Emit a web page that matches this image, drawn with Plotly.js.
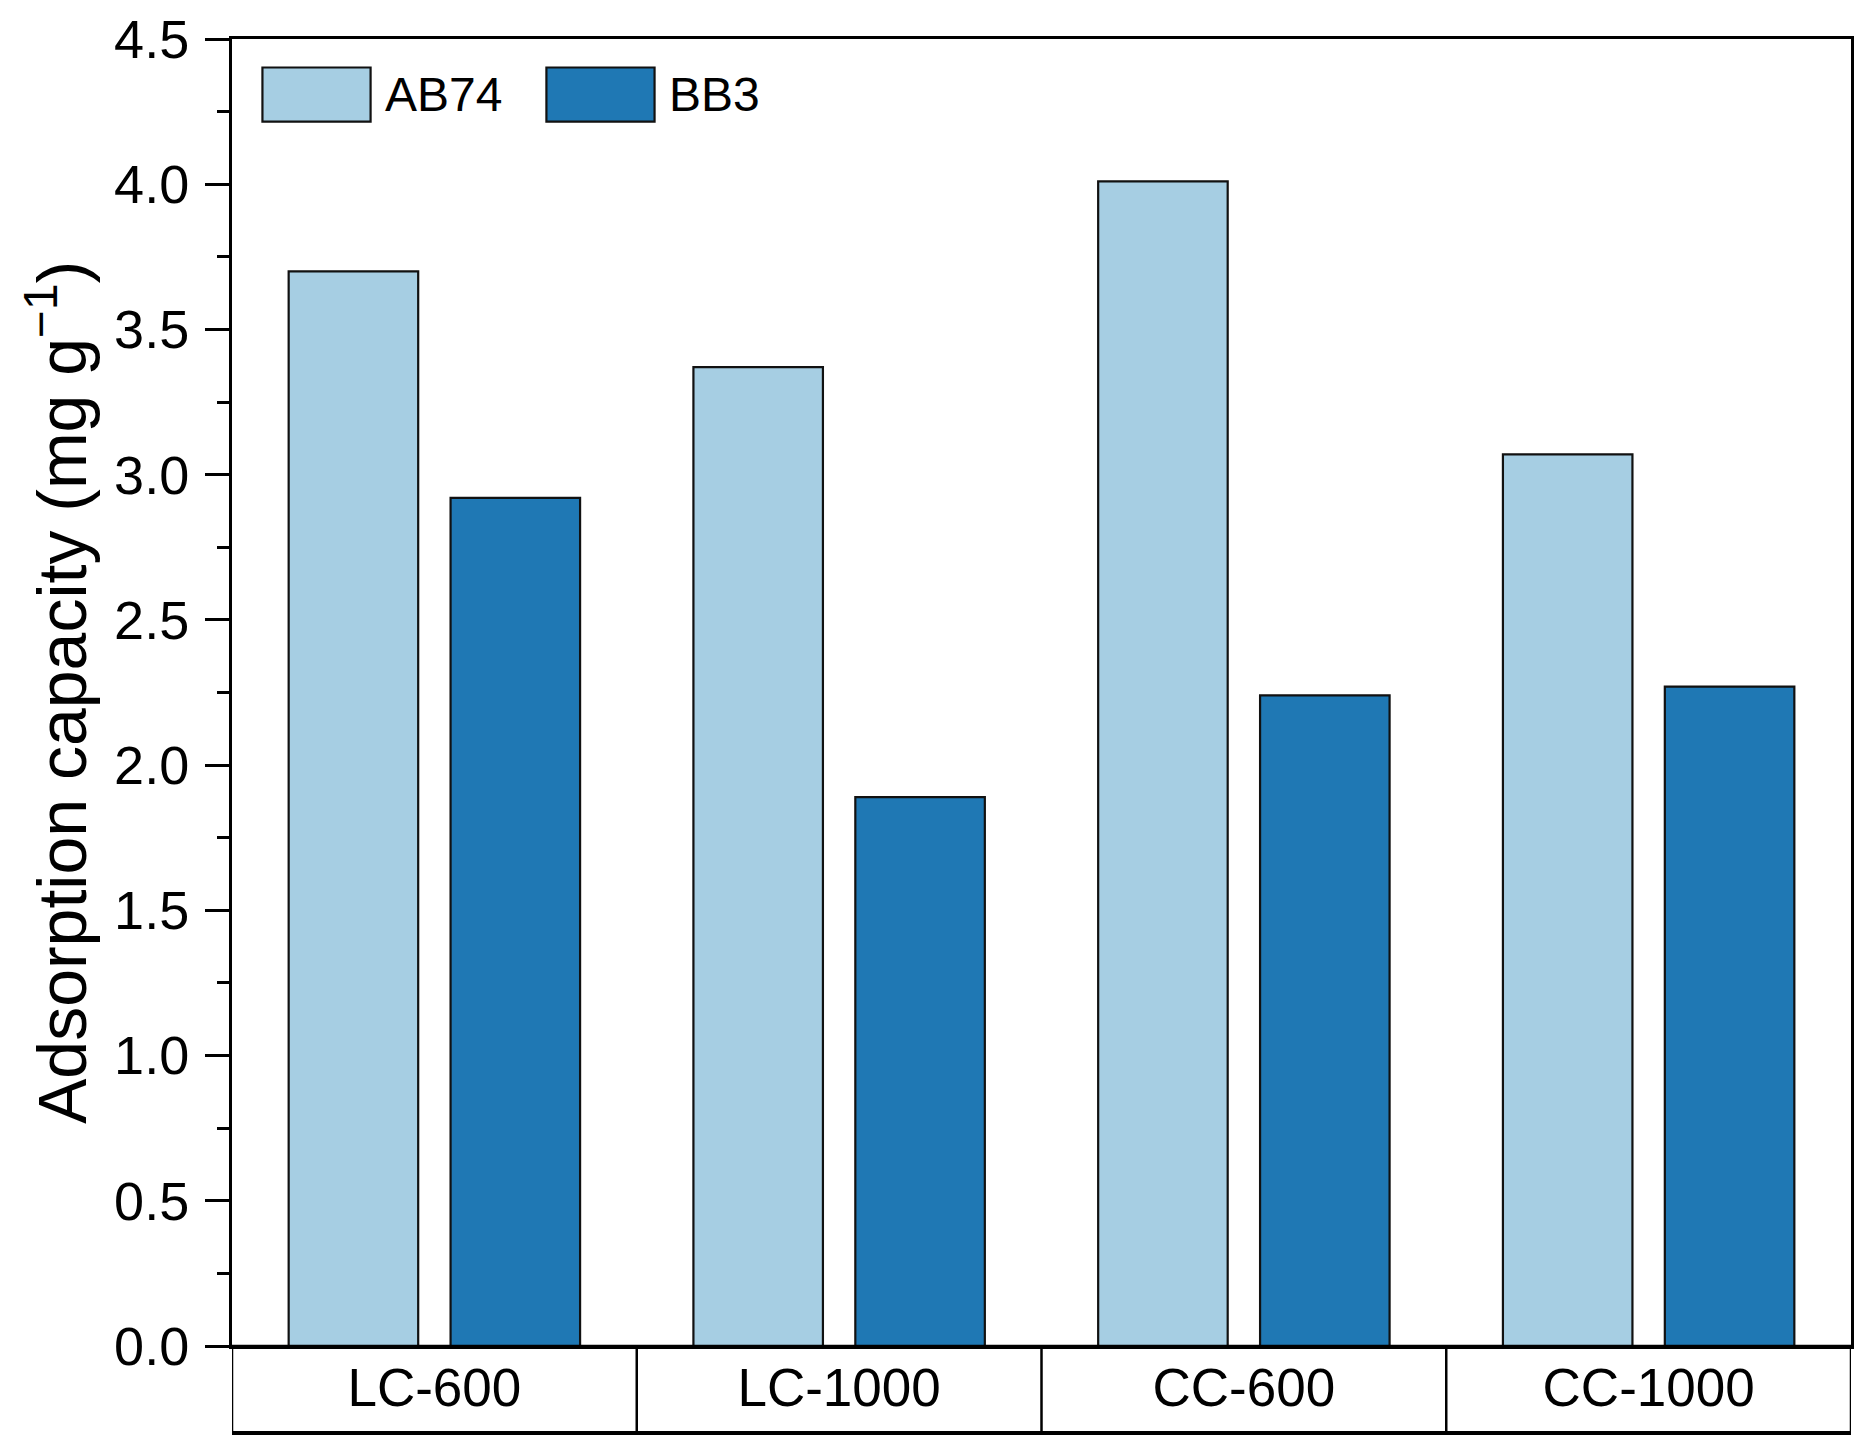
<!DOCTYPE html>
<html>
<head>
<meta charset="utf-8">
<script src="https://cdn.plot.ly/plotly-3.0.1.min.js"></script>
<style>
  html, body { margin: 0; padding: 0; background: #fff; }
  #chart { width: 1870px; height: 1455px; }
</style>
</head>
<body>
<div id="chart"></div>
<script>
// samples on the x axis
var categories = ['LC-600', 'LC-1000', 'CC-600', 'CC-1000'];
// adsorption capacity, mg g-1
var ab74 = [3.70, 3.37, 4.01, 3.07];
var bb3 = [2.92, 1.89, 2.24, 2.27];
var seriesNames = ['AB74', 'BB3'];
var seriesColors = ['#a6cee3', '#1f78b4'];
var yTicks = [0, 0.5, 1, 1.5, 2, 2.5, 3, 3.5, 4, 4.5];

var font = 'Liberation Sans, Arial, Helvetica, sans-serif';

var data = [ab74, bb3].map(function (vals, i) {
    return {
        x: categories,
        y: vals,
        type: 'bar',
        name: seriesNames[i],
        marker: {
            color: seriesColors[i],
            line: { color: '#111', width: 2.2 }
        },
        showlegend: false
    };
});

// table under the axis: box, cell dividers, heavy bottom rule
var tableH = 0.0666;
var shapes = [{
    type: 'rect', xref: 'x', yref: 'paper',
    x0: -0.5, x1: categories.length - 0.5, y0: -tableH, y1: 0,
    line: { color: '#000', width: 2.5 }
}, {
    type: 'line', xref: 'x', yref: 'paper',
    x0: -0.5, x1: categories.length - 0.5, y0: -tableH, y1: -tableH,
    line: { color: '#000', width: 4 }
}];
for (var k = 1; k < categories.length; k++) {
    shapes.push({
        type: 'line', xref: 'x', yref: 'paper',
        x0: k - 0.5, x1: k - 0.5, y0: -tableH, y1: 0,
        line: { color: '#000', width: 2.5 }
    });
}

// hand-made legend, the swatches are much larger than plotly's own
var legendX = [0.0188, 0.1942];
var annotations = [];
seriesNames.forEach(function (name, i) {
    shapes.push({
        type: 'rect', xref: 'paper', yref: 'paper',
        x0: legendX[i], x1: legendX[i] + 0.0668, y0: 0.9368, y1: 0.9782,
        fillcolor: seriesColors[i],
        line: { color: '#111', width: 2.2 }
    });
    annotations.push({
        xref: 'paper', yref: 'paper',
        x: legendX[i] + 0.0745, y: 0.9575,
        xanchor: 'left', yanchor: 'middle',
        text: name, showarrow: false,
        font: { family: font, size: 48, color: '#000' }
    });
});

var layout = {
    width: 1870,
    height: 1455,
    margin: { l: 232, r: 19, t: 39, b: 109 },
    paper_bgcolor: '#fff',
    plot_bgcolor: '#fff',
    barmode: 'group',
    bargap: 0.2,
    bargroupgap: 0.2,
    font: { family: font, color: '#000' },
    xaxis: {
        type: 'category',
        range: [-0.5, categories.length - 0.5],
        showline: true, linecolor: '#000', linewidth: 3, mirror: true,
        ticks: '', showgrid: false, zeroline: false,
        tickfont: { family: font, size: 53, color: '#000' },
        ticklabelstandoff: -7
    },
    yaxis: {
        range: [0, 4.5],
        tickvals: yTicks,
        tickformat: '.1f',
        showline: true, linecolor: '#000', linewidth: 3, mirror: true,
        ticks: 'outside', ticklen: 24, tickwidth: 3, tickcolor: '#000',
        minor: { dtick: 0.25, ticks: 'outside', ticklen: 12, tickwidth: 3, tickcolor: '#000', showgrid: false },
        showgrid: false, zeroline: false,
        tickfont: { family: font, size: 54, color: '#000' },
        ticklabelstandoff: 5,
        title: {
            text: 'Adsorption capacity (mg g<sup>\u22121</sup>)',
            font: { family: font, size: 68, color: '#000' },
            standoff: 6
        },
        automargin: false
    },
    shapes: shapes,
    annotations: annotations
};

Plotly.newPlot('chart', data, layout, { displayModeBar: false, staticPlot: true });
</script>
</body>
</html>
